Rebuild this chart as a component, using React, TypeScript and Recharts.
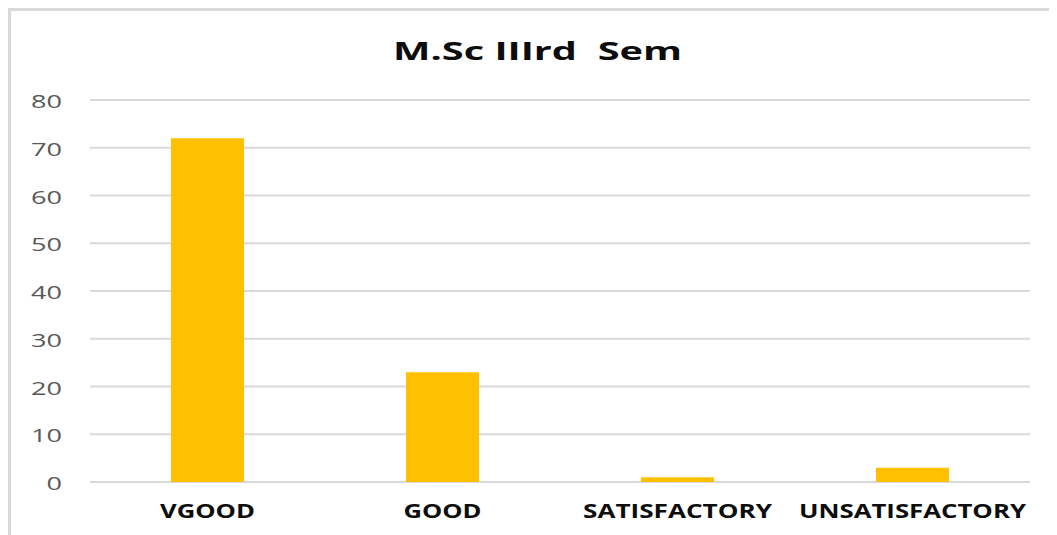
import React from "react";
import { BarChart, Bar, XAxis, YAxis, CartesianGrid } from "recharts";

const categories = ["VGOOD", "GOOD", "SATISFACTORY", "UNSATISFACTORY"];
const values = [72, 23, 1, 3];
const yTicks = [0, 10, 20, 30, 40, 50, 60, 70, 80];
const title = "M.Sc IIIrd  Sem";

const data = categories.map((c, i) => ({ name: c, value: values[i] }));

// rendered text widths (style only)
const xLabelWidths: Record<string, number> = {
  VGOOD: 95,
  GOOD: 78,
  SATISFACTORY: 189,
  UNSATISFACTORY: 227,
};

const XTick = (props: any) => {
  const { x, y, payload } = props;
  const label = String(payload.value);
  return (
    <text
      x={x}
      y={y + 36}
      textAnchor="middle"
      fontFamily="'Open Sans', sans-serif"
      fontWeight={700}
      fontSize={20}
      fill="#0d0d0d"
      textLength={xLabelWidths[label]}
      lengthAdjust="spacingAndGlyphs"
    >
      {label}
    </text>
  );
};

const YTick = (props: any) => {
  const { x, y, payload } = props;
  const label = String(payload.value);
  return (
    <text
      x={x}
      y={y + 8}
      textAnchor="end"
      fontFamily="'Open Sans', sans-serif"
      fontSize={19}
      fill="#595959"
      textLength={label.length * 15.5}
      lengthAdjust="spacingAndGlyphs"
    >
      {label}
    </text>
  );
};

export default function App() {
  return (
    <div style={{ position: "relative", width: 1049, height: 527, background: "#fff" }}>
      <BarChart
        width={1049}
        height={527}
        data={data}
        margin={{ top: 92, right: 27, bottom: 13, left: 0 }}
      >
        <CartesianGrid vertical={false} stroke="#d9d9d9" strokeWidth={2} />
        <XAxis
          dataKey="name"
          axisLine={false}
          tickLine={false}
          tickSize={0}
          tickMargin={0}
          height={40}
          interval={0}
          tick={<XTick />}
        />
        <YAxis
          domain={[0, 80]}
          ticks={yTicks}
          axisLine={false}
          tickLine={false}
          tickSize={0}
          tickMargin={28}
          width={82}
          interval={0}
          tick={<YTick />}
        />
        <Bar dataKey="value" fill="#FFC000" barSize={73} isAnimationActive={false} />
      </BarChart>
      <svg
        width={1049}
        height={80}
        style={{ position: "absolute", left: 0, top: 0, pointerEvents: "none" }}
      >
        <text
          x={529.5}
          y={52}
          textAnchor="middle"
          fontFamily="'Open Sans', sans-serif"
          fontWeight={700}
          fontSize={25}
          fill="#0d0d0d"
          textLength={289}
          lengthAdjust="spacingAndGlyphs"
          style={{ whiteSpace: "pre" }}
        >
          {title}
        </text>
      </svg>
      <div
        style={{
          position: "absolute",
          left: 0,
          top: 0,
          width: 1049,
          height: 527,
          borderTop: "3px solid #d9d9d9",
          borderLeft: "3px solid #d9d9d9",
          boxSizing: "border-box",
          pointerEvents: "none",
        }}
      />
    </div>
  );
}
